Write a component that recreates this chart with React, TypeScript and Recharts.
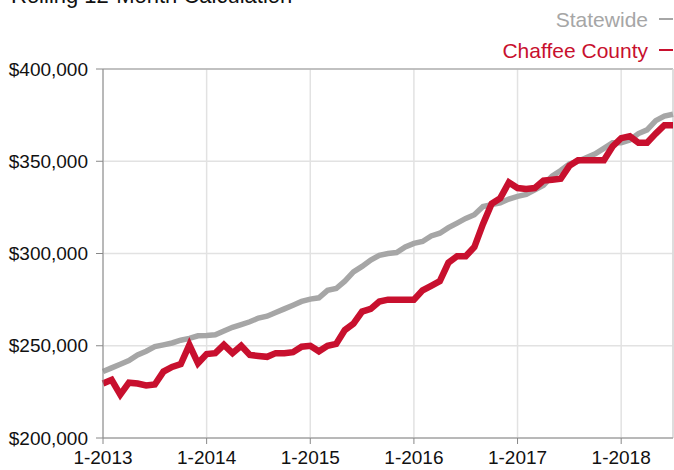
import React from "react";
import {
  LineChart,
  Line,
  XAxis,
  YAxis,
  CartesianGrid,
  Legend,
  ReferenceLine,
} from "recharts";

const years = [2013, 2014, 2015, 2016, 2017, 2018];
const lastMonth2018 = 7;

const months: string[] = [];
years.forEach((y) => {
  const count = y === 2018 ? lastMonth2018 : 12;
  for (let m = 1; m <= count; m++) months.push(`${m}-${y}`);
});

// values in dollars (thousands)
const statewide = [
  236, 238, 240, 242, 245, 247, 249.5, 250.5, 251.5, 253, 254, 255.4,
  255.6, 256, 258, 260, 261.5, 263, 265, 266, 268, 270, 272, 274,
  275.3, 276, 280, 281, 285, 290, 293, 296.5, 299, 300, 300.5, 303.5,
  305.5, 306.5, 309.5, 311, 314, 316.5, 319, 321, 325.5, 326.5, 327.5, 329.5,
  331, 332, 334.5, 337, 342, 345, 348.5, 350, 352, 354, 357, 360,
  360, 361.5, 365, 367, 372, 374.5, 375.5,
];

const chaffee = [
  229.5, 231.5, 223.5, 230, 229.5, 228.5, 229, 236, 238.5, 240, 250.5, 240.5,
  245.5, 246, 250.5, 246, 250, 245, 244.5, 244, 246, 246, 246.5, 249.5,
  250, 247, 250, 251, 258.5, 262, 268.5, 270, 274, 275, 275, 275,
  275, 280, 282.5, 285, 295, 298.5, 298.5, 303.5, 316, 327, 330, 338.5,
  335.5, 335, 335.5, 339.5, 340, 340.5, 347.5, 350.5, 350.5, 350.5, 350.5, 358,
  362.5, 363.5, 360, 360, 365, 369.5, 369.5,
];

const yTicks = [200000, 250000, 300000, 350000, 400000];
const legendOrder = ["Statewide", "Chaffee County"];

const data = months.map((month, i) => ({
  month,
  statewide: statewide[i] * 1000,
  chaffee: chaffee[i] * 1000,
}));

const FONT = '"Liberation Sans", Arial, Helvetica, sans-serif';
const GRAY = "#a6a6a6";
const RED = "#c8102e";

const renderLegend = (props: any) => {
  const payload = [...(props.payload || [])].sort(
    (a: any, b: any) => legendOrder.indexOf(a.value) - legendOrder.indexOf(b.value)
  );
  return (
    <div style={{ textAlign: "right", fontFamily: FONT, fontSize: 21, lineHeight: "31px" }}>
      {payload.map((entry: any) => (
        <div key={entry.value} style={{ color: entry.color, whiteSpace: "nowrap" }}>
          {entry.value}
          <span
            style={{
              display: "inline-block",
              width: 14,
              height: 2,
              marginLeft: 11,
              marginBottom: 4,
              verticalAlign: "middle",
              background: entry.color,
            }}
          />
        </div>
      ))}
    </div>
  );
};

export default function App() {
  return (
    <div style={{ position: "absolute", left: 0, top: 0, width: 674, height: 470, background: "#fff", overflow: "hidden" }}>
      <div
        style={{
          position: "absolute",
          left: 11,
          top: -15,
          fontFamily: FONT,
          fontSize: 22,
          lineHeight: "22px",
          color: "#111",
          whiteSpace: "nowrap",
        }}
      >
        Rolling 12-Month Calculation
      </div>
      <LineChart
        width={674}
        height={470}
        data={data}
        margin={{ top: 69, right: 1, left: 0, bottom: 0 }}
        style={{ fontFamily: FONT }}
      >
        <CartesianGrid stroke="#e2e2e2" strokeWidth={1.5} />
        <XAxis
          dataKey="month"
          interval={11}
          height={32}
          tickSize={6}
          tickMargin={7}
          tick={{ fill: "#111", fontSize: 19 }}
          axisLine={{ stroke: "#888" }}
          tickLine={{ stroke: "#888" }}
        />
        <YAxis
          domain={[200000, 400000]}
          ticks={yTicks}
          width={103}
          tickSize={7}
          tickMargin={8}
          tick={{ fill: "#111", fontSize: 19 }}
          axisLine={{ stroke: "#888" }}
          tickLine={{ stroke: "#888" }}
          tickFormatter={(v: number) => `$${v.toLocaleString("en-US")}`}
        />
        <ReferenceLine y={400000} stroke="#999" />
        <ReferenceLine x={months[months.length - 1]} stroke="#d8d8d8" strokeWidth={1.5} />
        <Legend
          layout="vertical"
          align="center"
          verticalAlign="middle"
          wrapperStyle={{ top: 4, right: 1, left: "auto", width: 300 }}
          content={renderLegend}
        />
        <Line
          type="linear"
          dataKey="statewide"
          name="Statewide"
          stroke={GRAY}
          strokeWidth={5.5}
          dot={false}
          isAnimationActive={false}
        />
        <Line
          type="linear"
          dataKey="chaffee"
          name="Chaffee County"
          stroke={RED}
          strokeWidth={6.5}
          dot={false}
          isAnimationActive={false}
        />
      </LineChart>
    </div>
  );
}
